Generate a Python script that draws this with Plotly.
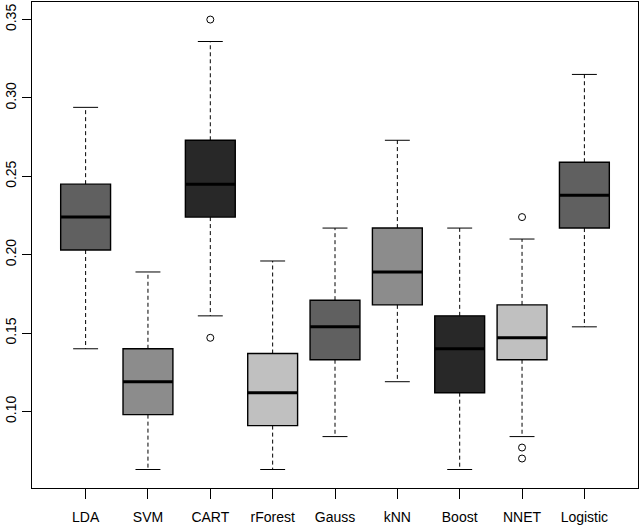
import plotly.graph_objects as go

methods = ['LDA', 'SVM', 'CART', 'rForest', 'Gauss', 'kNN', 'Boost', 'NNET', 'Logistic']
lower = [0.140, 0.063, 0.161, 0.063, 0.084, 0.119, 0.063, 0.084, 0.154]
q1 = [0.203, 0.098, 0.224, 0.091, 0.133, 0.168, 0.112, 0.133, 0.217]
median = [0.224, 0.119, 0.245, 0.112, 0.154, 0.189, 0.140, 0.147, 0.238]
q3 = [0.245, 0.140, 0.273, 0.137, 0.171, 0.217, 0.161, 0.168, 0.259]
upper = [0.294, 0.189, 0.336, 0.196, 0.217, 0.273, 0.217, 0.210, 0.315]
outlier_method = ['CART', 'CART', 'NNET', 'NNET', 'NNET']
outlier_value = [0.350, 0.147, 0.224, 0.077, 0.070]
fills = ['#606060', '#8c8c8c', '#282828', '#c0c0c0', '#606060',
         '#8c8c8c', '#282828', '#c0c0c0', '#606060']
yticks = [0.10, 0.15, 0.20, 0.25, 0.30, 0.35]

pos = list(range(1, len(methods) + 1))
box_w = 0.8
cap_w = 0.4

fig = go.Figure()

# dashed whiskers
wx, wy = [], []
for i, p in enumerate(pos):
    wx += [p, p, None, p, p, None]
    wy += [q3[i], upper[i], None, q1[i], lower[i], None]
fig.add_trace(go.Scatter(x=wx, y=wy, mode='lines',
                         line=dict(color='black', width=1, dash='4px,3px'),
                         hoverinfo='skip'))

# whisker caps
cx, cy = [], []
for i, p in enumerate(pos):
    cx += [p - cap_w / 2, p + cap_w / 2, None, p - cap_w / 2, p + cap_w / 2, None]
    cy += [upper[i], upper[i], None, lower[i], lower[i], None]
fig.add_trace(go.Scatter(x=cx, y=cy, mode='lines',
                         line=dict(color='black', width=1), hoverinfo='skip'))

# boxes
fig.add_trace(go.Bar(x=pos, base=q1, y=[b - a for a, b in zip(q1, q3)],
                     width=box_w, marker=dict(color=fills, line=dict(color='black', width=1.4))))

# medians
mx, my = [], []
for i, p in enumerate(pos):
    mx += [p - box_w / 2, p + box_w / 2, None]
    my += [median[i], median[i], None]
fig.add_trace(go.Scatter(x=mx, y=my, mode='lines',
                         line=dict(color='black', width=3), hoverinfo='skip'))

# outliers
fig.add_trace(go.Scatter(x=[pos[methods.index(m)] for m in outlier_method], y=outlier_value,
                         mode='markers',
                         marker=dict(symbol='circle-open', size=7, color='black',
                                     line=dict(width=1))))

font = dict(family='Liberation Sans, Arial, sans-serif', size=14, color='black')
fig.update_layout(
    width=640, height=526,
    margin=dict(l=32, r=2, t=1, b=37),
    plot_bgcolor='white', paper_bgcolor='white',
    showlegend=False, font=font,
    xaxis=dict(range=[0.14, 9.86], tickvals=pos, ticktext=methods,
               ticks='outside', ticklen=10, tickcolor='black',
               showline=True, mirror=True, linecolor='black', linewidth=1.2,
               showgrid=False, zeroline=False, ticklabelstandoff=6),
    yaxis=dict(range=[0.0512, 0.3612], tickvals=yticks,
               ticktext=['%.2f' % v for v in yticks], tickangle=-90,
               ticks='outside', ticklen=9, tickcolor='black',
               showline=True, mirror=True, linecolor='black', linewidth=1.2,
               showgrid=False, zeroline=False),
)

fig.write_html('out.html', config={'displayModeBar': False},
               post_script="document.body.style.margin='0';")
